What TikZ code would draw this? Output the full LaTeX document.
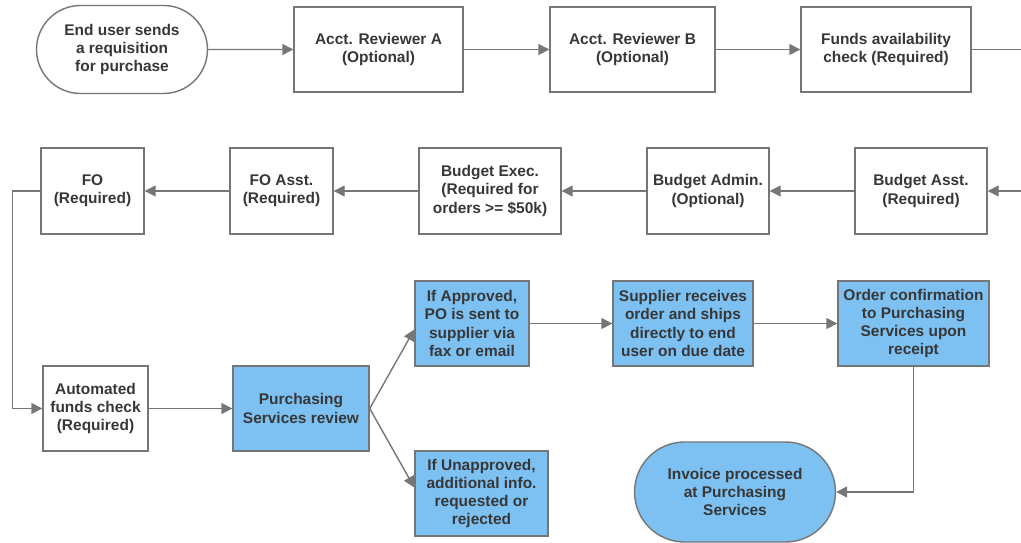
\documentclass[tikz,border=0pt]{standalone}
\usepackage{fontspec}
\setmainfont{Liberation Sans}
\usetikzlibrary{arrows.meta,shapes.misc}
\definecolor{boxline}{RGB}{118,118,118}
\definecolor{boxtext}{RGB}{55,55,55}
\definecolor{psblue}{RGB}{125,193,242}

\begin{document}
\begin{tikzpicture}[nodes={draw=boxline, line width=0.8pt, text=boxtext,
        font=\fontsize{8.8}{10.3}\selectfont\bfseries, align=center, inner sep=2pt},
    stagebox/.style={rectangle, minimum height=1.70cm},
    termbox/.style={rounded rectangle, minimum height=1.76cm},
    flow/.style={draw=boxline, line width=0.8pt, -{Triangle[length=0.22cm,width=0.22cm]}}]
        \path[use as bounding box, clip] (0,0) rectangle (20.42,-10.86);
        % first row
        \node[termbox, minimum width=3.56cm] (request) at (2.44,-0.99) {End user sends\\a requisition\\for purchase};
        \node[stagebox, minimum width=3.38cm] (reviewa) at (7.57,-0.99) {Acct. Reviewer A\\(Optional)};
        \draw[flow] (request) to (reviewa);
        \node[stagebox, minimum width=3.30cm] (reviewb) at (12.65,-0.99) {Acct. Reviewer B\\(Optional)};
        \draw[flow] (reviewa) to (reviewb);
        \node[stagebox, minimum width=3.40cm] (funds) at (17.72,-0.99) {Funds availability\\check (Required)};
        \draw[flow] (reviewb) to (funds);
        % second row, right to left
        \node[stagebox, minimum width=2.64cm, minimum height=1.72cm] (budasst) at (18.42,-3.82) {Budget Asst.\\(Required)};
        \coordinate (wrap) at (21.0,-0.99);
        \draw[flow] (funds) -- (wrap) |- (budasst);
        \node[stagebox, minimum width=2.44cm, minimum height=1.72cm] (budadmin) at (14.16,-3.82) {Budget Admin.\\(Optional)};
        \draw[flow] (budasst) to (budadmin);
        \node[stagebox, minimum width=2.84cm, minimum height=1.72cm] (budexec) at (9.80,-3.82) {Budget Exec.\\(Required for\\orders >= \$50k)};
        \draw[flow] (budadmin) to (budexec);
        \node[stagebox, minimum width=2.06cm, minimum height=1.72cm] (foasst) at (5.63,-3.82) {FO Asst.\\(Required)};
        \draw[flow] (budexec) to (foasst);
        \node[stagebox, minimum width=2.06cm, minimum height=1.72cm] (fo) at (1.85,-3.82) {FO\\(Required)};
        \draw[flow] (foasst) to (fo);
        % third row
        \node[stagebox, minimum width=2.10cm] (autocheck) at (1.91,-8.17) {Automated\\funds check\\(Required)};
        \draw[flow] (fo.west) -- ++(-0.56,0) |- (autocheck.west);
        \node[stagebox, fill=psblue, minimum width=2.72cm] (psreview) at (6.02,-8.17) {Purchasing\\Services review};
        \draw[flow] (autocheck) to (psreview);
        \node[stagebox, fill=psblue, minimum width=2.28cm] (approved) at (9.44,-6.47) {If Approved,\\PO is sent to\\supplier via\\fax or email};
        \draw[flow] (psreview.east) to ([yshift=-0.12cm]approved.west);
        \node[stagebox, fill=psblue, minimum width=2.66cm] (rejected) at (9.63,-9.87) {If Unapproved,\\additional info.\\requested or\\rejected};
        \draw[flow] (psreview.east) to ([yshift=0.12cm]rejected.west);
        \node[stagebox, fill=psblue, minimum width=2.80cm] (supplier) at (13.66,-6.47) {Supplier receives\\order and ships\\directly to end\\user on due date};
        \draw[flow] (approved) to (supplier);
        \node[stagebox, fill=psblue, minimum width=3.02cm] (confirm) at (18.27,-6.47) {Order confirmation\\to Purchasing\\Services upon\\receipt};
        \draw[flow] (supplier) to (confirm);
        \node[termbox, fill=psblue, minimum width=4.16cm, minimum height=2.0cm] (invoice) at (14.70,-9.84) {Invoice processed\\at Purchasing\\Services};
        \draw[flow] (confirm.south) |- (invoice.east);
    \end{tikzpicture}
\end{document}
